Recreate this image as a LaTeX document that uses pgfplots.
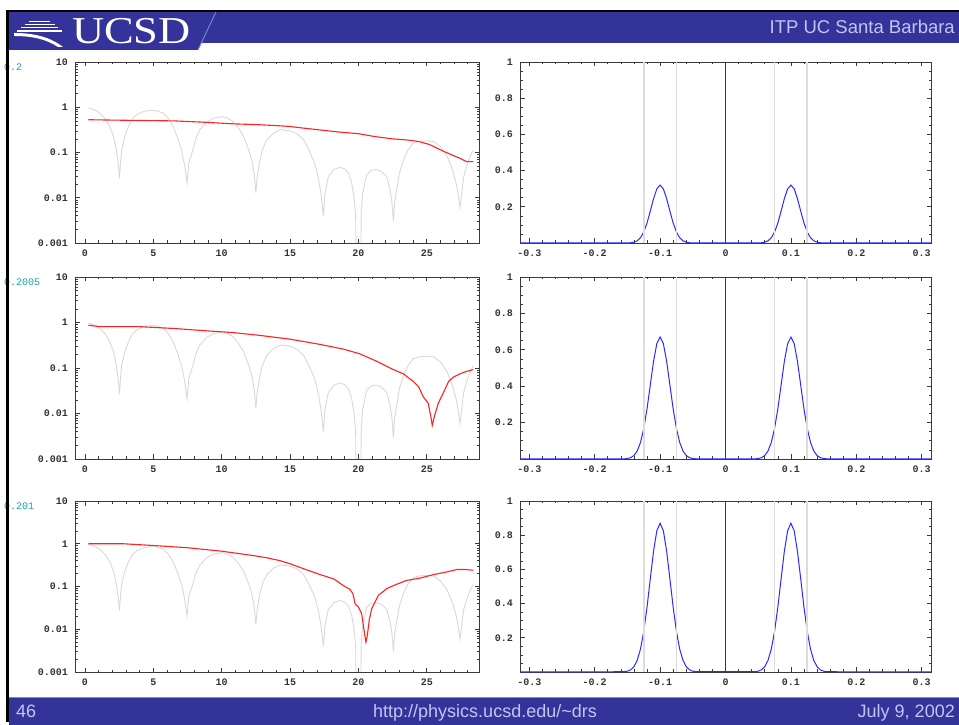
\documentclass[border=0pt]{standalone}
\usepackage{fontspec}
\setmainfont{Liberation Sans}
\newfontfamily\mono{Liberation Mono}
\newfontfamily\serifuc{Liberation Serif}
\usepackage{pgfplots}
\usepackage{pgfplotstable}
\pgfplotsset{compat=1.18}

\definecolor{HdrBlue}{HTML}{333399}
\definecolor{HdrText}{HTML}{C4C4F2}
\definecolor{SlantBlue}{HTML}{6F8FD0}
\definecolor{AxGray}{HTML}{3A3A3A}
\definecolor{TickGray}{HTML}{333333}
\definecolor{CurveGray}{HTML}{D9D9D9}
\definecolor{LineGray}{HTML}{DCDCDC}
\definecolor{MRed}{HTML}{FF2222}
\definecolor{MBlue}{HTML}{2B2BFF}
\definecolor{LabCyan}{HTML}{1AA3B3}

% gray reference curve (same in all three left panels)
\pgfplotstableread{
x y
0.25 0.97
0.7 0.88
1.1 0.74
1.5 0.55
1.83 0.37
2.1 0.22
2.3 0.11
2.45 0.05
2.52 0.027
2.6 0.06
2.68 0.11
2.9 0.22
3.17 0.37
3.45 0.55
3.78 0.68
4.3 0.81
4.88 0.86
5.3 0.83
5.73 0.74
6.1 0.57
6.46 0.37
6.8 0.2
7.07 0.11
7.3 0.05
7.46 0.021
7.6 0.06
7.88 0.11
8.1 0.2
8.4 0.32
8.9 0.47
9.4 0.57
10.0 0.62
10.4 0.58
10.85 0.48
11.2 0.36
11.6 0.23
11.95 0.12
12.2 0.069
12.4 0.03
12.5 0.013
12.6 0.03
12.8 0.069
13.0 0.12
13.3 0.19
13.8 0.27
14.3 0.32
15.0 0.30
15.5 0.26
16.0 0.19
16.4 0.11
16.8 0.058
17.1 0.025
17.3 0.01
17.44 0.004
17.55 0.012
17.8 0.029
18.2 0.042
18.66 0.047
19.0 0.043
19.27 0.035
19.5 0.022
19.7 0.009
19.8 0.004
19.85 0.00001
20.15 0.00001
20.2 0.004
20.3 0.012
20.6 0.032
20.9 0.040
21.3 0.042
21.7 0.038
22.07 0.029
22.3 0.016
22.45 0.008
22.56 0.003
22.65 0.008
22.8 0.015
23.0 0.035
23.3 0.069
23.6 0.11
24.0 0.16
24.5 0.178
25.0 0.18
25.5 0.175
26.0 0.135
26.5 0.081
26.9 0.04
27.2 0.018
27.44 0.006
27.55 0.012
27.7 0.029
28.0 0.06
28.3 0.1
28.4 0.11
}\grayc

\pgfplotstableread{
x y
0.25 0.53
2 0.52
4 0.51
6.46 0.50
8.5 0.47
10.85 0.43
12.8 0.41
14.5 0.385
15 0.375
16 0.345
17 0.32
18.5 0.285
20 0.26
21.2 0.225
22.5 0.2
23.5 0.19
24.4 0.175
25.2 0.15
25.98 0.115
26.7 0.092
27.4 0.075
27.9 0.063
28.4 0.063
}\redA

\pgfplotstableread{
x y
0.25 0.87
1.1 0.81
4.0 0.81
6.46 0.74
9.1 0.65
10.85 0.60
12.8 0.52
15.0 0.43
17.2 0.33
18.9 0.26
20.1 0.205
21.35 0.14
22.4 0.097
23.3 0.074
24.0 0.051
24.4 0.039
24.75 0.023
25.1 0.017
25.3 0.0085
25.4 0.0055
25.55 0.0085
25.85 0.017
26.2 0.028
26.6 0.051
26.95 0.063
27.45 0.075
27.9 0.084
28.4 0.092
}\redB

\pgfplotstableread{
x y
0.25 1.0
2.8 1.0
5.0 0.91
7.44 0.81
10.0 0.67
12.3 0.53
13.3 0.47
14.3 0.40
15.0 0.34
16.0 0.26
17.2 0.19
18.2 0.15
18.9 0.105
19.4 0.085
19.6 0.067
19.76 0.039
20.0 0.033
20.24 0.023
20.4 0.010
20.55 0.005
20.65 0.0071
20.8 0.017
20.97 0.030
21.46 0.062
22.07 0.089
22.56 0.105
23.5 0.138
24.5 0.157
25.5 0.19
26.5 0.22
27.2 0.25
27.8 0.25
28.4 0.24
}\redC

% wave packets, one column per row
\pgfplotstableread{
x r1 r2 r3
-0.3142 0 0 0
-0.155 0 0.0008 0.0016
-0.150 0.0004 0.0026 0.0048
-0.145 0.0014 0.0074 0.0129
-0.140 0.0045 0.0191 0.0311
-0.135 0.0122 0.0440 0.0680
-0.130 0.0290 0.0907 0.1337
-0.125 0.0604 0.1670 0.2369
-0.120 0.1100 0.2750 0.3784
-0.115 0.1760 0.4060 0.5446
-0.110 0.2450 0.5370 0.7065
-0.105 0.2990 0.6340 0.8260
-0.100 0.3200 0.6700 0.8700
-0.095 0.2990 0.6340 0.8260
-0.090 0.2450 0.5370 0.7065
-0.085 0.1760 0.4060 0.5446
-0.080 0.1100 0.2750 0.3784
-0.075 0.0604 0.1670 0.2369
-0.070 0.0290 0.0907 0.1337
-0.065 0.0122 0.0440 0.0680
-0.060 0.0045 0.0191 0.0311
-0.055 0.0014 0.0074 0.0129
-0.050 0.0004 0.0026 0.0048
-0.045 0 0.0008 0.0016
0.045 0 0.0008 0.0016
0.050 0.0004 0.0026 0.0048
0.055 0.0014 0.0074 0.0129
0.060 0.0045 0.0191 0.0311
0.065 0.0122 0.0440 0.0680
0.070 0.0290 0.0907 0.1337
0.075 0.0604 0.1670 0.2369
0.080 0.1100 0.2750 0.3784
0.085 0.1760 0.4060 0.5446
0.090 0.2450 0.5370 0.7065
0.095 0.2990 0.6340 0.8260
0.100 0.3200 0.6700 0.8700
0.105 0.2990 0.6340 0.8260
0.110 0.2450 0.5370 0.7065
0.115 0.1760 0.4060 0.5446
0.120 0.1100 0.2750 0.3784
0.125 0.0604 0.1670 0.2369
0.130 0.0290 0.0907 0.1337
0.135 0.0122 0.0440 0.0680
0.140 0.0045 0.0191 0.0311
0.145 0.0014 0.0074 0.0129
0.150 0.0004 0.0026 0.0048
0.155 0 0.0008 0.0016
0.3142 0 0 0
}\peaks

\pgfplotsset{
  mma/.style={
    scale only axis, anchor=south west,
    axis line style={draw=AxGray, line width=0.9pt},
    every tick/.style={draw=AxGray, line width=0.6pt},
    tick align=inside,
    major tick length=4.5pt, minor tick length=2.5pt,
    tick label style={font=\mono\bfseries\fontsize{10}{12}\selectfont, text=TickGray, inner sep=0pt},
    xticklabel shift=7pt, yticklabel shift=7pt,
  },
  leftp/.style={mma, width=404pt,
    xmin=-0.73, xmax=28.82, ymin=0.001, ymax=10,
    xtick={0,5,10,15,20,25}, xticklabels={0,5,10,15,20,25},
    minor xtick={1,2,3,4,6,7,8,9,11,12,13,14,16,17,18,19,21,22,23,24,26,27,28},
    ytick={0.001,0.01,0.1,1,10}, yticklabels={0.001,0.01,0.1,1,10},
    minor ytick={0.002,0.003,0.004,0.005,0.006,0.007,0.008,0.009,
      0.02,0.03,0.04,0.05,0.06,0.07,0.08,0.09,
      0.2,0.3,0.4,0.5,0.6,0.7,0.8,0.9,2,3,4,5,6,7,8,9},
  },
  rightp/.style={mma, width=411pt, clip=false,
    xmin=-0.3142, xmax=0.3142, ymin=0, ymax=1,
    xtick={-0.3,-0.2,-0.1,0,0.1,0.2,0.3},
    xticklabels={-0.3,-0.2,-0.1,0,0.1,0.2,0.3},
    minor x tick num=4,
    ytick={0,0.2,0.4,0.6,0.8,1}, yticklabels={,0.2,0.4,0.6,0.8,1},
    minor y tick num=3,
  },
  grayline/.style={draw=CurveGray, line width=0.9pt, mark=none},
  redline/.style={draw=MRed, line width=1.1pt, mark=none},
  blueline/.style={draw=MBlue, line width=1pt, mark=none},
  vline/.style={draw=LineGray, line width=1.6pt, mark=none},
  zline/.style={draw=AxGray, line width=1pt, mark=none},
}

\begin{document}
\begin{tikzpicture}[x=1pt,y=1pt]
\path[use as bounding box] (0,0) rectangle (959,725);
\fill[white] (0,0) rectangle (959,725);

% header
\fill[HdrBlue] (9,682) rectangle (959,713);
\fill[HdrBlue] (9,713) -- (216,713) -- (198,675) -- (9,675) -- cycle;
\draw[SlantBlue, line width=0.9pt] (216,713) -- (198,675);
\draw[black, line width=2pt] (6,714) -- (959,714);
% logo mark
\fill[white] (29,704) rectangle (50,702.5);
\fill[white] (25,701) rectangle (55,699.5);
\fill[white] (21,698) rectangle (58,696.5);
\fill[white] (17,695) rectangle (62,693.2);
\fill[white] (14,692) .. controls (34,692) and (50,688) .. (63,678)
  -- (58,678) .. controls (46,686) and (32,689) .. (14,689) -- cycle;
\node[anchor=base west, inner sep=0pt, text=white, xscale=1.17, transform shape]
  at (72,681.5) {\serifuc\fontsize{38}{38}\selectfont UCSD};
\node[anchor=base east, inner sep=0pt, text=HdrText]
  at (955,691.5) {\fontsize{18.5}{20}\selectfont ITP UC Santa Barbara};

% footer
\fill[HdrBlue] (9,0) rectangle (959,28);
\draw[SlantBlue, line width=0.6pt] (9,28) -- (959,28);
\node[anchor=base west, inner sep=0pt, text=HdrText] at (16,7)
  {\fontsize{18}{20}\selectfont 46};
\node[anchor=base, inner sep=0pt, text=HdrText] at (485,7)
  {\fontsize{18}{20}\selectfont http://physics.ucsd.edu/\textasciitilde drs};
\node[anchor=base east, inner sep=0pt, text=HdrText] at (955,7)
  {\fontsize{18}{20}\selectfont July 9, 2002};

% row 1
\begin{axis}[ymode=log, leftp, at={(75pt,482pt)}, height=181pt]
\addplot[grayline] table[x=x,y=y] {\grayc};
\addplot[redline] table[x=x,y=y] {\redA};
\end{axis}
\begin{axis}[rightp, at={(520pt,482pt)}, height=181pt]
\addplot[blueline] table[x=x,y=r1] {\peaks};
\addplot[vline] coordinates {(-0.125,0) (-0.125,1)};
\addplot[vline] coordinates {(-0.075,0) (-0.075,1)};
\addplot[vline] coordinates {(0.075,0) (0.075,1)};
\addplot[vline] coordinates {(0.125,0) (0.125,1)};
\addplot[zline] coordinates {(0,0) (0,1)};
\end{axis}

% row 2
\begin{axis}[ymode=log, leftp, at={(75pt,266pt)}, height=182pt]
\addplot[grayline] table[x=x,y=y] {\grayc};
\addplot[redline] table[x=x,y=y] {\redB};
\end{axis}
\begin{axis}[rightp, at={(520pt,266pt)}, height=182pt]
\addplot[blueline] table[x=x,y=r2] {\peaks};
\addplot[vline] coordinates {(-0.125,0) (-0.125,1)};
\addplot[vline] coordinates {(-0.075,0) (-0.075,1)};
\addplot[vline] coordinates {(0.075,0) (0.075,1)};
\addplot[vline] coordinates {(0.125,0) (0.125,1)};
\addplot[zline] coordinates {(0,0) (0,1)};
\end{axis}

% row 3
\begin{axis}[ymode=log, leftp, at={(75pt,53pt)}, height=171pt]
\addplot[grayline] table[x=x,y=y] {\grayc};
\addplot[redline] table[x=x,y=y] {\redC};
\end{axis}
\begin{axis}[rightp, at={(520pt,53pt)}, height=171pt]
\addplot[blueline] table[x=x,y=r3] {\peaks};
\addplot[vline] coordinates {(-0.125,0) (-0.125,1)};
\addplot[vline] coordinates {(-0.075,0) (-0.075,1)};
\addplot[vline] coordinates {(0.075,0) (0.075,1)};
\addplot[vline] coordinates {(0.125,0) (0.125,1)};
\addplot[zline] coordinates {(0,0) (0,1)};
\end{axis}

% parameter labels, partly hidden by the border
\foreach \yy/\tt in {658/0.2, 443/0.2005, 219/0.201}
  \node[anchor=west, inner sep=0pt, text=LabCyan] at (4,\yy)
    {\mono\fontsize{10}{12}\selectfont\tt};
\draw[black, line width=2.6pt] (7.5,715) -- (7.5,3);
\end{tikzpicture}
\end{document}
